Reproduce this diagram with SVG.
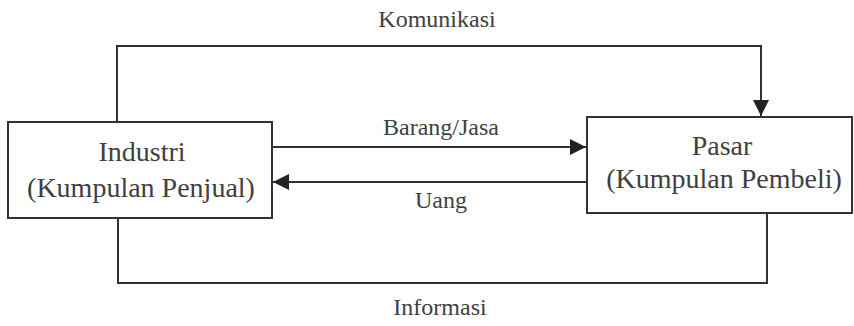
<svg xmlns="http://www.w3.org/2000/svg" width="854" height="326" viewBox="0 0 854 326">
  <style>
    .box { fill: #ffffff; stroke: #333333; stroke-width: 2; }
    .line { fill: none; stroke: #333333; stroke-width: 2; }
    .node-text { font-family: "Liberation Serif", serif; font-size: 28px; fill: #404040; text-anchor: middle; }
    .label { font-family: "Liberation Serif", serif; font-size: 24px; fill: #404040; text-anchor: middle; }
  </style>
  <defs>
    <marker id="arrow" viewBox="0 0 10 10" refX="10" refY="5" markerWidth="16" markerHeight="16" markerUnits="userSpaceOnUse" orient="auto">
      <path d="M0,0 L10,5 L0,10 Z" fill="#222222"/>
    </marker>
  </defs>
  <rect width="854" height="326" fill="#ffffff"/>

  <g id="connectors">
    <!-- Komunikasi: industry to market, over the top -->
    <polyline class="line" points="117,122 117,46 761,46 761,116" marker-end="url(#arrow)"/>
    <!-- Barang/Jasa -->
    <line class="line" x1="272" y1="147" x2="586" y2="147" marker-end="url(#arrow)"/>
    <!-- Uang -->
    <line class="line" x1="587" y1="182" x2="273" y2="182" marker-end="url(#arrow)"/>
    <!-- Informasi: market back to industry, along the bottom -->
    <polyline class="line" points="118,218 118,283 767,283 767,213"/>
  </g>

  <g id="labels">
    <text class="label" x="437" y="27">Komunikasi</text>
    <text class="label" x="441" y="135">Barang/Jasa</text>
    <text class="label" x="441" y="208">Uang</text>
    <text class="label" x="440" y="315">Informasi</text>
  </g>

  <g id="industri">
    <rect class="box" x="8" y="122" width="264" height="96"/>
    <text class="node-text" x="142" y="161">Industri</text>
    <text class="node-text" x="141" y="197">(Kumpulan Penjual)</text>
  </g>

  <g id="pasar">
    <rect class="box" x="587" y="117" width="265" height="96"/>
    <text class="node-text" x="722" y="155">Pasar</text>
    <text class="node-text" x="724" y="188">(Kumpulan Pembeli)</text>
  </g>
</svg>
